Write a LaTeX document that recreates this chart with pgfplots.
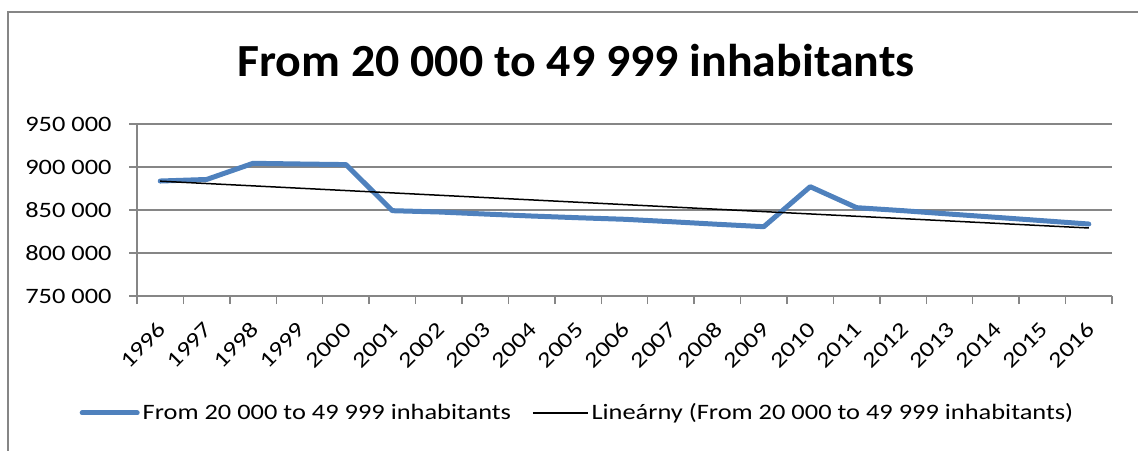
\documentclass[border=0pt]{standalone}
\usepackage{fontspec}
\setmainfont{Carlito}
\newfontfamily\tickfont{Carlito}[FakeStretch=1.2]
\newfontfamily\titlefont{Carlito}[FakeStretch=1.04]
\usepackage{pgfplots}
\pgfplotsset{compat=1.18}
\usepackage{pgfplotstable}
\definecolor{xblue}{RGB}{79,129,189}
\definecolor{xgray}{RGB}{134,134,134}

\pgfplotstableread{
x y
0 883700
1 885500
2 904300
3 903500
4 902800
5 849200
6 847700
7 845300
8 843000
9 841000
10 839200
11 836400
12 833400
13 830600
14 877100
15 852700
16 849200
17 845300
18 841500
19 837600
20 833700
}\datatable

\begin{document}
\begin{tikzpicture}[x=0.5pt,y=0.5pt]
\useasboundingbox (0,0) rectangle (1138,450);
\draw[xgray, line width=1pt] (8,438) rectangle (1170,-30);
\node[anchor=base, font=\titlefont\fontsize{23}{23}\bfseries\selectfont] at (576,373) {From 20 000 to 49 999 inhabitants};
\begin{axis}[
  at={(68.5pt,77pt)}, anchor=south west,
  scale only axis, width=487.5pt, height=86pt,
  xmin=-0.5, xmax=20.5, ymin=750000, ymax=950000,
  scaled y ticks=false,
  axis x line=bottom, axis y line=left,
  axis line style={xgray, line width=0.75pt, -},
  tick align=outside, major tick length=4pt,
  tick style={xgray, line width=0.75pt},
  xtick={-0.5,0.5,...,20.5}, xticklabels={},
  extra x ticks={0,1,...,20},
  extra x tick labels={1996,1997,1998,1999,2000,2001,2002,2003,2004,2005,2006,2007,2008,2009,2010,2011,2012,2013,2014,2015,2016},
  extra x tick style={major tick length=0pt, grid=none},
  xticklabel style={font=\tickfont\fontsize{11}{11}\selectfont, xshift=1pt, yshift=-15pt, rotate=45, anchor=east, inner sep=0pt},
  ytick={750000,800000,850000,900000,950000},
  yticklabels={750 000,800 000,850 000,900 000,950 000},
  yticklabel style={font=\tickfont\fontsize{11}{11}\selectfont, anchor=east, inner sep=0pt, xshift=-8.5pt},
  ymajorgrids, grid style={xgray, line width=0.75pt},
  legend columns=2,
  legend style={at={(0.4523,-0.680)}, anchor=center, draw=none,
    font=\tickfont\fontsize{11}{11}\selectfont,
    nodes={inner sep=1.5pt},
    /tikz/every even column/.append style={column sep=9pt}},
  legend image code/.code={\draw[#1] (0pt,0pt) -- (27.5pt,0pt);},
]
\addplot[xblue, line width=2.5pt, line cap=round, line join=round] table[x=x,y=y] {\datatable};
\addlegendentry{From 20 000 to 49 999 inhabitants}
\addplot[black, line width=0.75pt] table[x=x, y={create col/linear regression={y=y}}] {\datatable};
\addlegendentry{Lineárny (From 20 000 to 49 999 inhabitants)}
\end{axis}
\end{tikzpicture}
\end{document}
